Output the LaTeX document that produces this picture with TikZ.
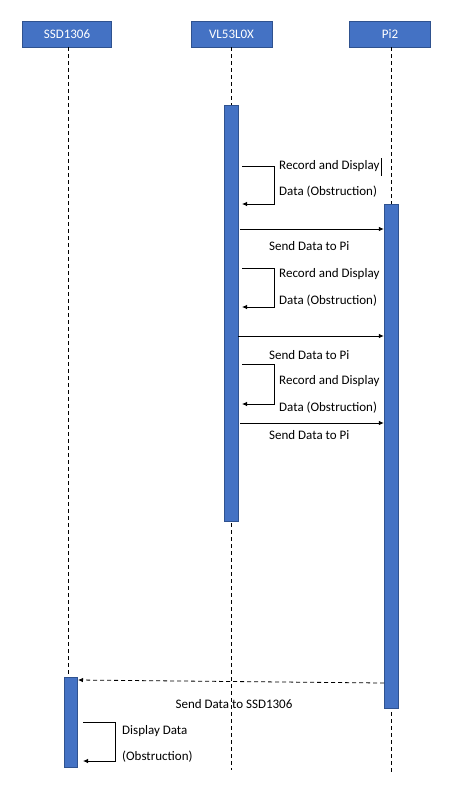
\documentclass[tikz,border=0pt]{standalone}
\usepackage{fontspec}
\setmainfont{Carlito}
\usetikzlibrary{arrows.meta}
\definecolor{boxblue}{HTML}{4472C4}
\definecolor{boxedge}{HTML}{2F528F}
\tikzset{
  head/.style={draw=boxedge,fill=boxblue,text=white,minimum height=26pt,inner sep=0pt,font=\fontsize{13}{15}\selectfont},
  bar/.style={draw=boxedge,fill=boxblue,minimum width=14pt,inner sep=0pt},
  life/.style={line width=0.8pt,dash pattern=on 4pt off 3pt},
  msg/.style={line width=0.8pt,-{Latex[length=5pt,width=4.5pt]}},
  ret/.style={msg,dash pattern=on 4pt off 3pt},
  lbl/.style={font=\fontsize{13}{15}\selectfont,inner sep=0pt,anchor=west},
}
\begin{document}
\begin{tikzpicture}[x=1pt,y=-1pt]
\useasboundingbox[fill=white] (0,0) rectangle (456,790);

% heads
\node[head,minimum width=89pt] (ssd) at (67,34) {SSD1306};
\node[head,minimum width=81pt] (vl) at (231.5,34) {VL53L0X};
\node[head,minimum width=81pt] (pi) at (390,34) {Pi2};

% lifelines
\coordinate (ssdend) at (68,768);
\coordinate (vlend) at (231,770);
\coordinate (piend) at (391,775);
\draw[life] (ssd.south -| ssdend) -- (ssdend);
\draw[life] (vl.south -| vlend) -- (vlend);
\draw[life] (pi.south -| piend) -- (piend);

% activations
\node[bar,minimum height=416pt] (vlbar) at (231,313) {};
\node[bar,minimum height=504pt] (pibar) at (391,456) {};
\node[bar,minimum width=13pt,minimum height=90pt] (ssdbar) at (70.5,722) {};

% VL53L0X -> Pi2
\coordinate (r1a) at (242,166); \coordinate (r1b) at (242,204);
\draw[msg] (r1a) -- ++(32,0) |- (r1b);
\node[lbl] (r1t) at (279,166) {Record and Display};
\node[lbl] (r1u) at (279,192) {Data (Obstruction)};
\draw[line width=0.6pt] (381,158) -- (381,176);

\coordinate (m1) at (240,229);
\draw[msg] (m1) -- (pibar.west |- m1);
\node[lbl] (m1t) at (269,246) {Send Data to Pi};

\coordinate (r2a) at (242,268); \coordinate (r2b) at (242,307);
\draw[msg] (r2a) -- ++(32,0) |- (r2b);
\node[lbl] (r2t) at (279,274) {Record and Display};
\node[lbl] (r2u) at (279,301) {Data (Obstruction)};

\coordinate (m2) at (238,336);
\draw[msg] (m2) -- (pibar.west |- m2);
\node[lbl] (m2t) at (269,355) {Send Data to Pi};

\coordinate (r3a) at (242,364); \coordinate (r3b) at (242,404);
\draw[msg] (r3a) -- ++(32,0) |- (r3b);
\node[lbl] (r3t) at (279,381) {Record and Display};
\node[lbl] (r3u) at (279,408) {Data (Obstruction)};

\coordinate (m3) at (240,423);
\draw[msg] (m3) -- (pibar.west |- m3);
\node[lbl] (m3t) at (269,435) {Send Data to Pi};

% Pi2 -> SSD1306
\coordinate (rs) at (384,683);
\coordinate (re) at (78,680);
\draw[ret] (rs) -- (re);
\node[lbl,anchor=center] (rt) at (234,704) {Send Data to SSD1306};

\coordinate (d1a) at (83,722); \coordinate (d1b) at (83,761);
\draw[msg] (d1a) -- ++(32,0) |- (d1b);
\node[lbl] (d1t) at (122,731) {Display Data};
\node[lbl] (d1u) at (122,757) {(Obstruction)};

\end{tikzpicture}
\end{document}
